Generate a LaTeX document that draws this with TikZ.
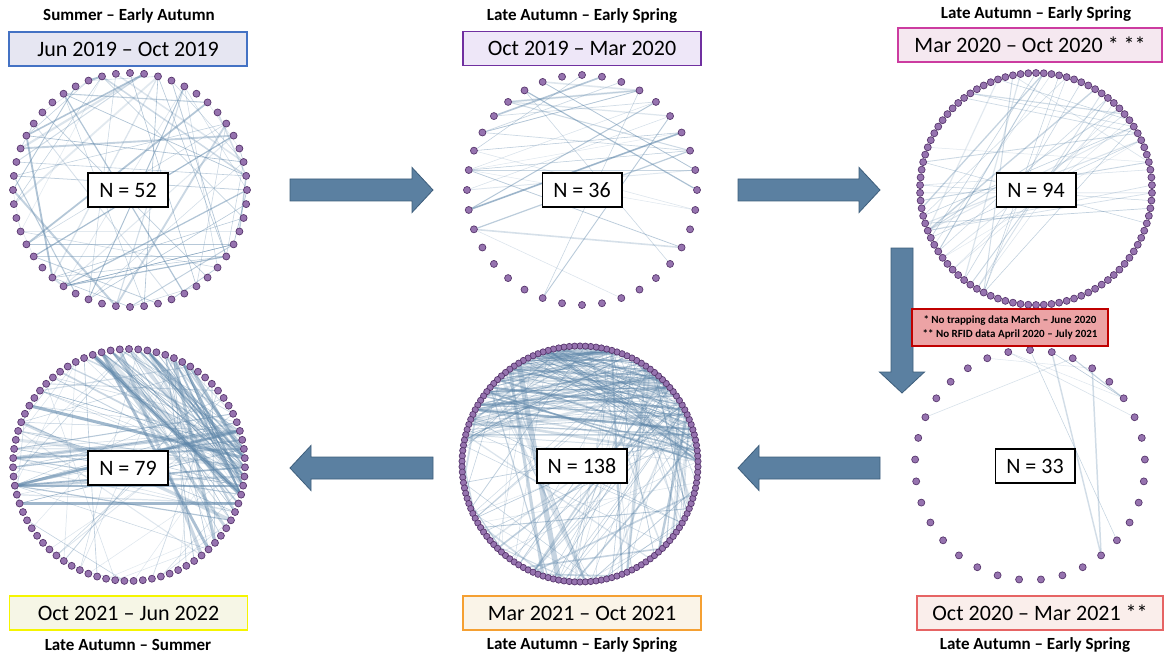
\documentclass[tikz,border=0pt]{standalone}
\usepackage{fontspec}
\setmainfont{Carlito}
\usetikzlibrary{backgrounds}

\definecolor{nodefill}{RGB}{150,115,175}
\definecolor{nodedraw}{RGB}{88,55,110}
\definecolor{linkblue}{RGB}{95,135,170}
\definecolor{arrowfill}{RGB}{91,128,161}
\definecolor{arrowdraw}{RGB}{62,94,124}
\definecolor{noteedge}{RGB}{192,0,0}
\definecolor{notefill}{RGB}{236,163,165}
\definecolor{blueedge}{RGB}{68,114,196}
\definecolor{bluefill}{RGB}{230,230,242}
\definecolor{purpleedge}{RGB}{112,48,160}
\definecolor{purplefill}{RGB}{238,231,248}
\definecolor{pinkedge}{RGB}{204,60,160}
\definecolor{pinkfill}{RGB}{245,232,240}
\definecolor{rededge}{RGB}{230,100,100}
\definecolor{redfill}{RGB}{250,238,235}
\definecolor{orangeedge}{RGB}{245,160,50}
\definecolor{orangefill}{RGB}{250,244,232}
\definecolor{yellowedge}{RGB}{245,245,0}
\definecolor{yellowfill}{RGB}{246,246,230}

\tikzset{
  ring node/.style={
    circle,
    draw=nodedraw,
    fill=nodefill,
    line width=0.7,
    inner sep=0pt,
    minimum size=7,
  },
  link/.style={draw=linkblue, line cap=round},
  count box/.style={
    draw,
    fill=white,
    line width=1.6,
    inner xsep=11,
    minimum height=34,
    font=\fontsize{22}{26}\selectfont,
  },
  date box/.style={
    draw,
    line width=1.5,
    minimum width=238,
    minimum height=34,
    font=\fontsize{22}{26}\selectfont,
  },
  season/.style={font=\fontsize{17}{20}\selectfont\bfseries},
  block arrow/.style={fill=arrowfill, draw=arrowdraw, line width=0.8},
}

% ring of N nodes: prefix, cx, cy, radius, N, node size
\newcommand{\netring}[6]{%
  \foreach \i in {1,...,#5}
    \node[ring node, minimum size=#6] (#1\i)
      at ({#2+#4*cos(90+360/#5*(\i-1))}, {#3-#4*sin(90+360/#5*(\i-1))}) {};
}
% random links: prefix, N, count, angle range 1, angle range 2, max width, max opacity
\newcommand{\netlinks}[9]{%
  \begin{pgfonlayer}{background}
  \foreach \k in {1,...,#3}{
    \pgfmathtruncatemacro{\ea}{mod(round(((#4)+rnd*((#5)-(#4))-90)/360*#2)+10*#2,#2)+1}
    \pgfmathtruncatemacro{\eb}{mod(round(((#6)+rnd*((#7)-(#6))-90)/360*#2)+10*#2,#2)+1}
    \pgfmathsetmacro{\ew}{0.5+rnd^3*((#8)-0.5)}
    \pgfmathsetmacro{\eo}{0.18+rnd*((#9)-0.18)}
    \ifnum\ea=\eb\relax\else
      \draw[link, line width=\ew, draw opacity=\eo] (#1\ea) -- (#1\eb);
    \fi
  }
  \end{pgfonlayer}
}
\newcommand{\fatarrow}[4]{%
  \draw[block arrow, shift={(#1,#2)}, rotate=#3]
    (0,-11) -- ({#4-21},-11) -- ({#4-21},-22.5) -- (#4,0)
    -- ({#4-21},22.5) -- ({#4-21},11) -- (0,11) -- cycle;
}

\begin{document}
\begin{tikzpicture}[x=1pt, y=-1pt]
  \useasboundingbox (0,0) rectangle (1164,655);
  \begin{pgfonlayer}{background}
    \fill[white] (0,0) rectangle (1164,655);
  \end{pgfonlayer}
  \pgfmathsetseed{4242}

  % rings
  \netring{a}{130}{190}{117}{52}{7}
  \netring{b}{582}{190}{115}{36}{7}
  \netring{c}{1036}{189}{116}{94}{7}
  \netring{d}{1030}{465}{115}{33}{7}
  \netring{e}{580}{464}{118}{138}{6.3}
  \netring{f}{129}{465}{116}{79}{7}

  % links
  \netlinks{a}{52}{75}{0}{360}{0}{360}{2.2}{0.55}
  \netlinks{b}{36}{24}{100}{200}{-90}{100}{2}{0.55}
  \netlinks{b}{36}{10}{20}{60}{120}{270}{1.5}{0.45}
  \netlinks{c}{94}{26}{190}{245}{20}{110}{1.4}{0.45}
  \netlinks{c}{94}{10}{160}{200}{-20}{30}{1.2}{0.4}
  \netlinks{c}{94}{5}{95}{130}{10}{40}{1.2}{0.4}
  \netlinks{d}{33}{11}{40}{170}{-60}{80}{1.6}{0.5}
  \netlinks{e}{138}{110}{100}{170}{0}{80}{3}{0.6}
  \netlinks{e}{138}{70}{0}{360}{0}{360}{2}{0.45}
  \netlinks{e}{138}{40}{20}{80}{200}{340}{2.5}{0.5}
  \netlinks{e}{138}{6}{120}{150}{250}{290}{6}{0.5}
  \netlinks{f}{79}{40}{60}{110}{-60}{10}{4.5}{0.6}
  \netlinks{f}{79}{30}{150}{200}{-30}{30}{3.5}{0.6}
  \netlinks{f}{79}{45}{0}{360}{0}{360}{1.2}{0.4}
  \netlinks{f}{79}{20}{-20}{20}{60}{150}{2}{0.5}

  % counts
  \node[count box] (n1) at (128,190) {N = 52};
  \node[count box] (n2) at (582,190) {N = 36};
  \node[count box] (n3) at (1036,190) {N = 94};
  \node[count box] (n4) at (1035,466) {N = 33};
  \node[count box] (n5) at (582,466) {N = 138};
  \node[count box] (n6) at (128,468) {N = 79};

  % periods
  \node[season] (s1) at (129,16) {Summer – Early Autumn};
  \node[date box, draw=blueedge, fill=bluefill] (d1) at (128,49) {Jun 2019 – Oct 2019};
  \node[season] (s2) at (582,16) {Late Autumn – Early Spring};
  \node[date box, draw=purpleedge, fill=purplefill] (d2) at (582,48.5) {Oct 2019 – Mar 2020};
  \node[season] (s3) at (1036,14) {Late Autumn – Early Spring};
  \node[date box, draw=pinkedge, fill=pinkfill, minimum width=264] (d3) at (1030,45) {Mar 2020 – Oct 2020 * **};
  \node[date box, draw=rededge, fill=redfill, minimum width=246] (d4) at (1040,613) {Oct 2020 – Mar 2021 **};
  \node[season] (s4) at (1035,645) {Late Autumn – Early Spring};
  \node[date box, draw=orangeedge, fill=orangefill] (d5) at (582,613) {Mar 2021 – Oct 2021};
  \node[season] (s5) at (582,645) {Late Autumn – Early Spring};
  \node[date box, draw=yellowedge, fill=yellowfill] (d6) at (128.5,613) {Oct 2021 – Jun 2022};
  \node[season] (s6) at (128,645) {Late Autumn – Summer};

  % arrows
  \fatarrow{290}{190}{0}{143}
  \fatarrow{738}{190}{0}{142}
  \fatarrow{902}{248}{-90}{145}
  \fatarrow{880}{468}{180}{142}
  \fatarrow{433}{468}{180}{143}

  \node[draw=noteedge, fill=notefill, line width=1.4, minimum width=196, minimum height=37,
        align=center, font=\fontsize{11}{14}\selectfont\bfseries] (note) at (1010,327.5)
    {* No trapping data March – June 2020\\** No RFID data April 2020 – July 2021};
\end{tikzpicture}
\end{document}
